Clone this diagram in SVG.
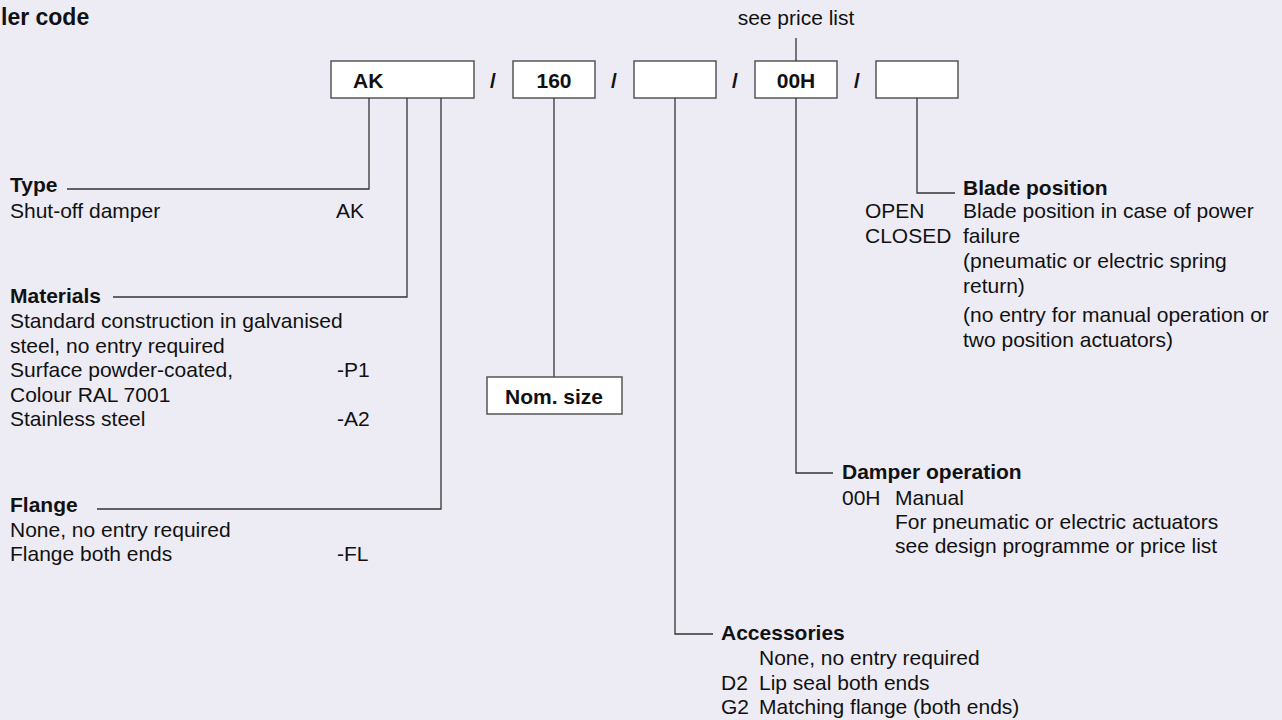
<svg xmlns="http://www.w3.org/2000/svg" width="1282" height="720" viewBox="0 0 1282 720">
<style>
text{font-family:"Liberation Sans",Arial,sans-serif;font-size:21px;fill:#111}
.b{font-weight:bold}
.m{text-anchor:middle}
.box{fill:#fff;stroke:#555;stroke-width:1.5}
.ln{fill:none;stroke:#333;stroke-width:1.3}
</style>
<rect width="1282" height="720" fill="#edecf5"/>
<text class="b" x="1" y="25" style="font-size:23px">ler code</text>

<g id="code-ak"><rect class="box" x="331" y="61" width="143" height="37"/><text class="b" x="353" y="88">AK</text></g>
<text class="b m" x="493" y="88">/</text>
<g id="code-size"><rect class="box" x="513" y="61" width="82" height="37"/><text class="b m" x="554" y="88">160</text></g>
<text class="b m" x="614" y="88">/</text>
<g id="code-acc"><rect class="box" x="634" y="61" width="82" height="37"/></g>
<text class="b m" x="735" y="88">/</text>
<g id="code-op"><rect class="box" x="755" y="61" width="82" height="37"/><text class="b m" x="796" y="88">00H</text></g>
<text class="b m" x="857" y="88">/</text>
<g id="code-blade"><rect class="box" x="876" y="61" width="82" height="37"/></g>

<g id="price"><text class="m" x="796" y="25">see price list</text></g>

<g id="connectors">
<path class="ln" d="M796 38V61"/>
<path class="ln" d="M369 98V189H67"/>
<path class="ln" d="M407 98V297H113"/>
<path class="ln" d="M441 98V509H97"/>
<path class="ln" d="M554 98V377"/>
<path class="ln" d="M675 98V634H713"/>
<path class="ln" d="M796 98V473H833"/>
<path class="ln" d="M917 98V193H955"/>
</g>

<g id="type">
<text class="b" x="10" y="192">Type</text>
<text x="10" y="218">Shut-off damper</text><text x="336" y="218">AK</text>
</g>

<g id="materials">
<text class="b" x="10" y="303">Materials</text>
<text x="10" y="328">Standard construction in galvanised</text>
<text x="10" y="353">steel, no entry required</text>
<text x="10" y="377">Surface powder-coated,</text><text x="337" y="377">-P1</text>
<text x="10" y="402">Colour RAL 7001</text>
<text x="10" y="426">Stainless steel</text><text x="337" y="426">-A2</text>
</g>

<g id="flange">
<text class="b" x="10" y="512">Flange</text>
<text x="10" y="537">None, no entry required</text>
<text x="10" y="561">Flange both ends</text><text x="337" y="561">-FL</text>
</g>

<g id="nomsize"><rect class="box" x="487" y="377" width="135" height="37"/><text class="b m" x="554" y="404">Nom. size</text></g>

<g id="accessories">
<text class="b" x="721" y="640">Accessories</text>
<text x="759" y="665">None, no entry required</text>
<text x="721" y="690">D2</text><text x="759" y="690">Lip seal both ends</text>
<text x="721" y="714">G2</text><text x="759" y="714">Matching flange (both ends)</text>
</g>

<g id="operation">
<text class="b" x="842" y="479">Damper operation</text>
<text x="842" y="505">00H</text><text x="895" y="505">Manual</text>
<text x="895" y="529">For pneumatic or electric actuators</text>
<text x="895" y="553">see design programme or price list</text>
</g>

<g id="blade">
<text class="b" x="963" y="195">Blade position</text>
<text x="865" y="218">OPEN</text><text x="963" y="218">Blade position in case of power</text>
<text x="865" y="243">CLOSED</text><text x="963" y="243">failure</text>
<text x="963" y="268">(pneumatic or electric spring</text>
<text x="963" y="293">return)</text>
<text x="963" y="322">(no entry for manual operation or</text>
<text x="963" y="347">two position actuators)</text>
</g>
</svg>
